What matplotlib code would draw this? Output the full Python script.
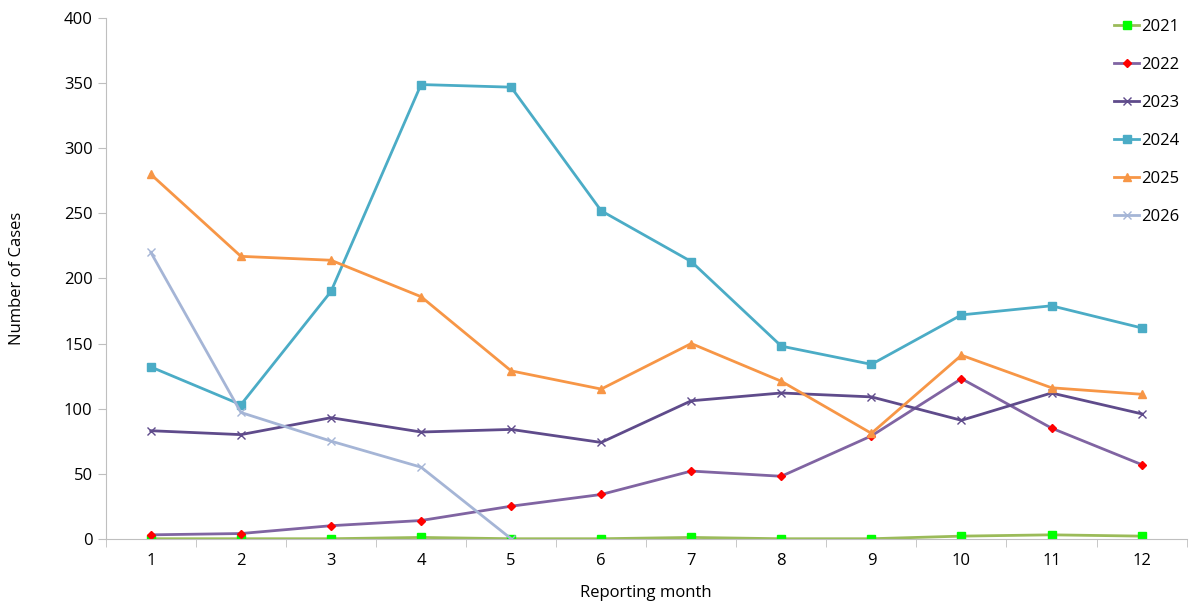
import matplotlib.pyplot as plt
import numpy as np

plt.rcParams['font.family'] = ['Open Sans', 'DejaVu Sans']

months = np.arange(1, 13)
cases_2021 = [0, 0, 0, 1, 0, 0, 1, 0, 0, 2, 3, 2]
cases_2022 = [3, 4, 10, 14, 25, 34, 52, 48, 79, 123, 85, 57]
cases_2023 = [83, 80, 93, 82, 84, 74, 106, 112, 109, 91, 112, 96]
cases_2024 = [132, 103, 190, 349, 347, 252, 213, 148, 134, 172, 179, 162]
cases_2025 = [280, 217, 214, 186, 129, 115, 150, 121, 81, 141, 116, 111]
cases_2026 = [220, 97, 75, 55, 0]

fig = plt.figure(figsize=(11.89, 6.06), dpi=100)
ax = fig.add_axes([0.089, 0.111, 0.909, 0.859])

ax.plot(months, cases_2021, color='#9BBB59', lw=2, marker='s', ms=6,
        mfc='#00FF00', mec='#00FF00', label='2021')
ax.plot(months, cases_2022, color='#8064A2', lw=2, marker='D', ms=4,
        mfc='#FF0000', mec='#FF0000', label='2022')
ax.plot(months, cases_2023, color='#5F4B8B', lw=2, marker='x', ms=6,
        mew=1.0, label='2023')
ax.plot(months, cases_2024, color='#4BACC6', lw=2, marker='s', ms=6,
        label='2024')
ax.plot(months, cases_2025, color='#F79646', lw=2, marker='^', ms=6,
        label='2025')
ax.plot(months[:len(cases_2026)], cases_2026, color='#A5B5D6', lw=2,
        marker='x', ms=6, mew=1.0, label='2026')

ax.set_xlim(0.5, 12.5)
ax.set_ylim(0, 400)
ax.set_yticks(range(0, 401, 50))
ax.set_xticks(months)
ax.set_xticks(np.arange(0.5, 13, 1), minor=True)
ax.tick_params(axis='x', which='major', length=0, labelsize=12, pad=10)
ax.tick_params(axis='x', which='minor', length=6, color='#BFBFBF')
ax.tick_params(axis='y', length=6, color='#BFBFBF', labelsize=12)

for side in ['top', 'right']:
    ax.spines[side].set_visible(False)
for side in ['left', 'bottom']:
    ax.spines[side].set_color('#BFBFBF')

ax.set_ylabel('Number of Cases', fontsize=12, labelpad=28)
ax.set_xlabel('Reporting month', fontsize=12, labelpad=12)

ax.legend(loc='upper right', bbox_to_anchor=(1.007, 1.028), frameon=False,
          fontsize=12, labelspacing=1.32, handlelength=1.5,
          handletextpad=0.1)

plt.savefig('out.png', dpi=100)
